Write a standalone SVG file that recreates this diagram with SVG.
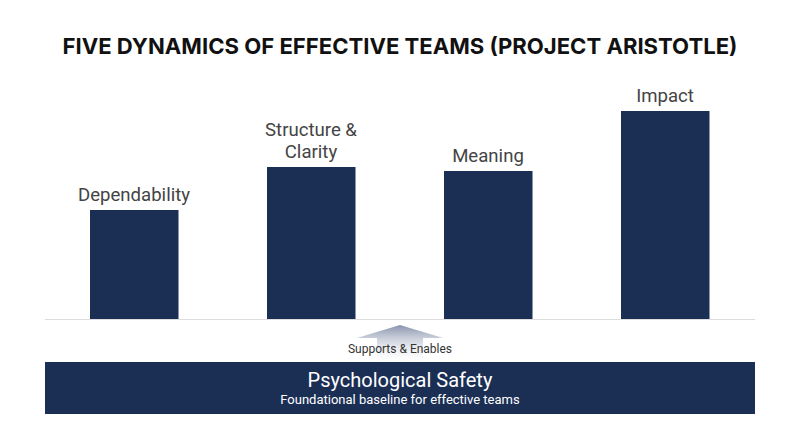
<svg xmlns="http://www.w3.org/2000/svg" width="800" height="447" viewBox="0 0 800 447">
  <style>
    .title { font-family: Inter, Roboto, "Liberation Sans", sans-serif; font-weight: 700; font-size: 22.1px; fill: #111; }
    .label { font-family: Roboto, "Liberation Sans", sans-serif; font-size: 18.6px; fill: #444; }
    .bar { fill: #1b2f55; }
    .small { font-family: Roboto, "Liberation Sans", sans-serif; font-size: 12px; fill: #333; }
    .base-title { font-family: Roboto, "Liberation Sans", sans-serif; font-size: 20px; fill: #fff; }
    .base-sub { font-family: Roboto, "Liberation Sans", sans-serif; font-size: 13px; fill: #fff; }
  </style>
  <defs>
    <linearGradient id="arrowGrad" x1="0" y1="0" x2="0" y2="1">
      <stop offset="0" stop-color="#8793ab"/>
      <stop offset="1" stop-color="#ffffff" stop-opacity="0.2"/>
    </linearGradient>
  </defs>
  <rect width="800" height="447" fill="#ffffff"/>
  <text class="title" x="400" y="54" text-anchor="middle">FIVE DYNAMICS OF EFFECTIVE TEAMS (PROJECT ARISTOTLE)</text>

  <g id="connectors">
    <line x1="45" y1="319.5" x2="755" y2="319.5" stroke="#dddddd" stroke-width="1"/>
    <path d="M400 325 L443 338 L423 338 L423 362 L377 362 L377 338 L357 338 Z" fill="url(#arrowGrad)"/>
    <text class="small" x="400" y="353" text-anchor="middle">Supports &amp; Enables</text>
  </g>

  <g id="dependability">
    <rect class="bar" x="90" y="210" width="88.5" height="109"/>
    <text class="label" x="134" y="201" text-anchor="middle">Dependability</text>
  </g>
  <g id="structure-clarity">
    <rect class="bar" x="267" y="167" width="88.5" height="152"/>
    <text class="label" x="311" y="136" text-anchor="middle">Structure &amp;</text>
    <text class="label" x="311" y="158" text-anchor="middle">Clarity</text>
  </g>
  <g id="meaning">
    <rect class="bar" x="444" y="171" width="88.5" height="148"/>
    <text class="label" x="488" y="162" text-anchor="middle">Meaning</text>
  </g>
  <g id="impact">
    <rect class="bar" x="621" y="111" width="88.5" height="208"/>
    <text class="label" x="665" y="102" text-anchor="middle">Impact</text>
  </g>

  <g id="psychological-safety">
    <rect class="bar" x="45" y="362" width="710" height="52"/>
    <text class="base-title" x="400" y="387" text-anchor="middle">Psychological Safety</text>
    <text class="base-sub" x="400" y="404" text-anchor="middle">Foundational baseline for effective teams</text>
  </g>
</svg>
